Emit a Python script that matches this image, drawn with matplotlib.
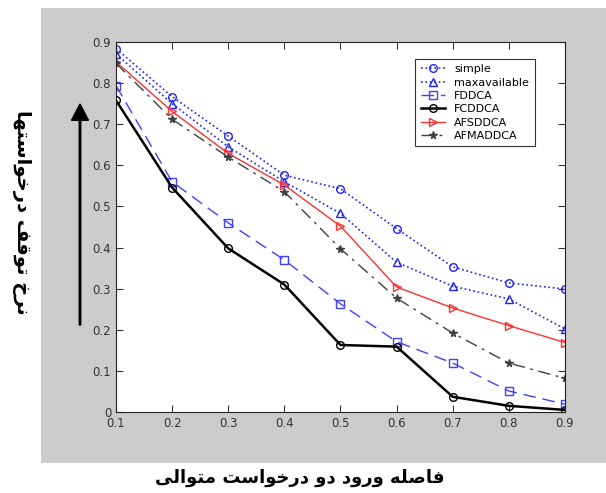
import numpy as np
import matplotlib
matplotlib.use('Agg')
import matplotlib.pyplot as plt
from matplotlib.patches import Rectangle, FancyArrow

# --- data ---
x = [0.1, 0.2, 0.3, 0.4, 0.5, 0.6, 0.7, 0.8, 0.9]
simple = [0.884, 0.767, 0.671, 0.576, 0.543, 0.446, 0.353, 0.314, 0.299]
maxavailable = [0.871, 0.750, 0.645, 0.560, 0.483, 0.364, 0.306, 0.275, 0.202]
fddca = [0.794, 0.560, 0.460, 0.370, 0.263, 0.171, 0.119, 0.051, 0.019]
fcddca = [0.758, 0.546, 0.398, 0.310, 0.163, 0.159, 0.037, 0.015, 0.005]
afsddca = [0.852, 0.731, 0.629, 0.552, 0.452, 0.304, 0.253, 0.210, 0.169]
afmaddca = [0.848, 0.712, 0.620, 0.536, 0.397, 0.277, 0.192, 0.119, 0.082]

xlabel_fa = 'فاصله ورود دو درخواست متوالی'
ylabel_fa = 'نرخ توقف درخواستها'

# minimal Persian shaping (matplotlib has no bidi / joining support)
# letter -> (isolated, final, initial, medial)
forms = {
    'ا': ('\ufe8d', '\ufe8e', None, None),
    'د': ('\ufea9', '\ufeaa', None, None),
    'ر': ('\ufead', '\ufeae', None, None),
    'و': ('\ufeed', '\ufeee', None, None),
    'ت': ('\ufe95', '\ufe96', '\ufe97', '\ufe98'),
    'خ': ('\ufea5', '\ufea6', '\ufea7', '\ufea8'),
    'س': ('\ufeb1', '\ufeb2', '\ufeb3', '\ufeb4'),
    'ص': ('\ufeb9', '\ufeba', '\ufebb', '\ufebc'),
    'ف': ('\ufed1', '\ufed2', '\ufed3', '\ufed4'),
    'ق': ('\ufed5', '\ufed6', '\ufed7', '\ufed8'),
    'ل': ('\ufedd', '\ufede', '\ufedf', '\ufee0'),
    'م': ('\ufee1', '\ufee2', '\ufee3', '\ufee4'),
    'ن': ('\ufee5', '\ufee6', '\ufee7', '\ufee8'),
    'ه': ('\ufee9', '\ufeea', '\ufeeb', '\ufeec'),
    'ی': ('\ufeef', '\ufef0', '\ufef3', '\ufef4'),
}


def shape(text):
    out = []
    for i, ch in enumerate(text):
        if ch not in forms:
            out.append(ch)
            continue
        prev = text[i - 1] if i > 0 else ' '
        nxt = text[i + 1] if i < len(text) - 1 else ' '
        joins_prev = prev in forms and forms[prev][2] is not None
        joins_next = nxt in forms and forms[ch][2] is not None
        iso, fin, ini, med = forms[ch]
        if joins_prev and joins_next:
            out.append(med)
        elif joins_prev:
            out.append(fin)
        elif joins_next:
            out.append(ini)
        else:
            out.append(iso)
    return ''.join(out)[::-1]


fig = plt.figure(figsize=(6.06, 4.93), dpi=100)
bg = Rectangle((0.0677, 0.061), 0.94, 0.923, transform=fig.transFigure,
               facecolor='#cccccc', edgecolor='none', zorder=-5)
fig.add_artist(bg)

ax = fig.add_axes([0.1914, 0.1643, 0.7409, 0.7505])
ax.set_zorder(2)
ax.set_facecolor('white')

ax.plot(x, simple, ':', color='#2020ff', marker='o', mfc='none', ms=5.5, lw=1.2, label='simple')
ax.plot(x, maxavailable, ':', color='#2020ff', marker='^', mfc='none', ms=5.5, lw=1.2, label='maxavailable')
ax.plot(x, fddca, color='#4040ff', marker='s', mfc='none', ms=5.5, lw=1.0, dashes=(9, 5), label='FDDCA')
ax.plot(x, fcddca, '-', color='black', marker='o', mfc='none', ms=5.5, lw=1.8, label='FCDDCA')
ax.plot(x, afsddca, '-', color='#ff3030', marker='>', mfc='none', ms=5.5, lw=1.0, label='AFSDDCA')
ax.plot(x, afmaddca, '-.', color='#404040', marker='*', ms=5.5, lw=1.0, dashes=(9, 4, 2, 4), label='AFMADDCA')

ax.set_xlim(0.1, 0.9)
ax.set_ylim(0, 0.9)
ax.set_xticks(x)
ax.set_xticklabels([f'{v:g}' for v in x])
ax.set_yticks([0, 0.1, 0.2, 0.3, 0.4, 0.5, 0.6, 0.7, 0.8, 0.9])
ax.set_yticklabels(['0', '0.1', '0.2', '0.3', '0.4', '0.5', '0.6', '0.7', '0.8', '0.9'])
ax.tick_params(direction='in', top=True, right=True, length=5, labelsize=8.5,
               labelcolor='#333333', color='#333333')
for s in ax.spines.values():
    s.set_color('#222222')

leg = ax.legend(loc='upper right', bbox_to_anchor=(0.945, 0.97), fontsize=8,
                fancybox=False, edgecolor='#333333', framealpha=1,
                handlelength=2.2, labelspacing=0.3, borderpad=0.5)
leg.get_frame().set_linewidth(0.8)

fig.text(0.495, 0.03, shape(xlabel_fa), ha='center', va='center', fontsize=13,
         fontweight='bold', family='DejaVu Sans')
fig.text(0.036, 0.57, shape(ylabel_fa), ha='center', va='center', fontsize=14,
         fontweight='bold', family='DejaVu Sans', rotation=-90)

fig.add_artist(FancyArrow(
    0.132, 1 - 325 / 493, 0, (325 - 104) / 493 - 0.033, width=0.0025,
    head_width=0.028, head_length=0.033, transform=fig.transFigure,
    color='black', length_includes_head=False, zorder=5))

fig.savefig('out.png', dpi=100)
